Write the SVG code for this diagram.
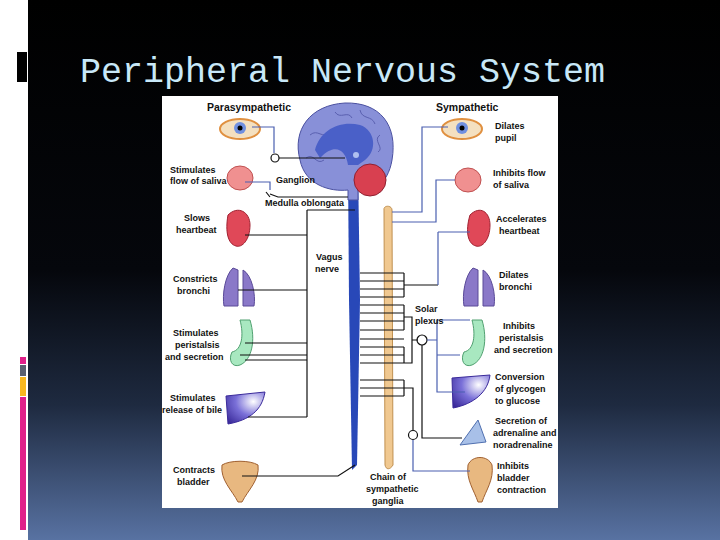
<svg xmlns="http://www.w3.org/2000/svg" width="720" height="540" viewBox="0 0 720 540">
<defs>
<linearGradient id="bg" x1="0" y1="0" x2="0" y2="1">
<stop offset="0" stop-color="#000"/><stop offset="0.5" stop-color="#05070c"/><stop offset="0.75" stop-color="#1e2a40"/><stop offset="1" stop-color="#5872a2"/>
</linearGradient>
<radialGradient id="liver" cx="0.7" cy="0.3" r="0.9"><stop offset="0" stop-color="#fff"/><stop offset="0.5" stop-color="#7a70d8"/><stop offset="1" stop-color="#3a2a9a"/></radialGradient>
</defs>
<style>
.t{font-family:"Liberation Sans",Arial,sans-serif;font-size:9px;font-weight:bold;fill:#111}
.h{font-family:"Liberation Sans",Arial,sans-serif;font-size:10.5px;font-weight:bold;fill:#111}
.k{stroke:#111;stroke-width:1.2;fill:none}
.b{stroke:#4a5fb0;stroke-width:1.2;fill:none}
.g{stroke:#5a60b0;stroke-width:1;fill:none}
.eye{fill:#f4e0c0;stroke:#e09040;stroke-width:2}
.heart{fill:#e04858;stroke:#a02030}
.lung{fill:#8a78c8;stroke:#5a4a98}
.sto{fill:#a8e8c0;stroke:#50a070}
.blad{fill:#e8b880;stroke:#a06030}
.sal{fill:#f09090;stroke:#c05050}
</style>
<rect width="720" height="540" fill="url(#bg)"/>
<rect width="28" height="540" fill="#fff"/>
<rect x="17" y="52" width="10" height="30" fill="#000"/>
<rect x="20" y="357" width="6" height="7" fill="#e0208a"/>
<rect x="20" y="365" width="6" height="11" fill="#5a6070"/>
<rect x="20" y="377" width="6" height="19" fill="#f8b820"/>
<rect x="20" y="397" width="6" height="133" fill="#e0208a"/>
<text x="80" y="82" font-family="Liberation Mono,monospace" font-size="35" fill="#c8e8f8">Peripheral Nervous System</text>
<g id="figure">
<rect x="162" y="96" width="396" height="412" fill="#fff"/>
<text class="h" x="207" y="111">Parasympathetic</text>
<text class="h" x="436" y="111">Sympathetic</text>
</g>
<g id="cord">
<path d="M348,165 L358,165 L360,300 L357,465 L352,470 L349,300Z" fill="#2848b8"/>
<path d="M384,210 C383,205 392,205 392,210 L393,465 C390,470 386,470 385,465Z" fill="#f0c890" stroke="#c09050"/>
</g>
<g id="brain">
<path d="M300,160 C292,130 310,105 345,103 C380,102 398,125 392,160 C388,185 370,195 358,190 L358,200 L348,200 L348,190 C330,192 305,185 300,160Z" fill="#8890d8" stroke="#4a50a0"/>
<path class="g" d="M310,135 C318,128 322,140 330,132 M335,112 C340,120 348,110 352,118 M360,110 C362,120 372,115 375,124 M380,135 C372,140 385,148 378,152 M306,158 C314,152 316,166 324,160"/>
<path d="M315,150 C320,130 340,120 360,125 C375,130 378,150 365,160 L358,165 L348,165 C346,150 335,142 320,158Z" fill="#4a60c8"/>
<circle cx="356" cy="155" r="3" fill="#b0c0f0"/>
<circle cx="370" cy="180" r="16" fill="#d84050" stroke="#902030"/>
</g>
<g id="organs">
<ellipse class="eye" cx="240" cy="129" rx="20" ry="10"/><circle cx="240" cy="128" r="6" fill="#7090e0"/><circle cx="240" cy="128" r="2.5" fill="#000"/>
<ellipse class="eye" cx="462" cy="129" rx="20" ry="10"/><circle cx="462" cy="128" r="6" fill="#7090e0"/><circle cx="462" cy="128" r="2.5" fill="#000"/>
<ellipse class="sal" cx="240" cy="178" rx="13" ry="12"/>
<ellipse class="sal" cx="468" cy="180" rx="13" ry="12"/>
<path class="heart" d="M228,215 C238,205 250,212 250,225 C250,240 242,248 236,246 C228,244 225,232 228,215Z"/>
<path class="heart" d="M470,215 C480,205 490,212 490,225 C490,240 482,248 476,246 C468,244 465,232 470,215Z"/>
<path class="lung" d="M233,268 C225,275 222,295 224,306 L238,306 L238,270Z M243,270 C252,275 256,295 254,306 L243,306Z"/>
<path class="lung" d="M473,268 C465,275 462,295 464,306 L478,306 L478,270Z M483,270 C492,275 496,295 494,306 L483,306Z"/>
<path class="sto" d="M240,320 L250,320 C256,340 252,360 240,365 C232,368 228,360 232,352 C242,350 244,335 240,320Z"/>
<path class="sto" d="M472,320 L482,320 C488,340 484,360 472,365 C464,368 460,360 464,352 C474,350 476,335 472,320Z"/>
<path fill="url(#liver)" stroke="#3a2a9a" d="M226,396 L265,392 C262,410 250,420 228,424 Z"/>
<path fill="url(#liver)" stroke="#3a2a9a" d="M452,378 L490,375 C488,392 474,404 453,408 Z"/>
<path fill="#a8c0e8" stroke="#5070b0" d="M460,445 L478,420 L486,442 Z"/>
<path class="blad" d="M222,465 C230,460 250,460 258,465 C260,480 248,490 242,502 L238,502 C232,490 220,480 222,465Z"/>
<path class="blad" d="M468,465 C472,455 488,455 492,465 C494,480 486,490 482,502 L478,502 C474,490 466,480 468,465Z"/>
</g>
<g id="connectors">
<path class="b" d="M252,127 H274 V153"/><circle class="k" cx="275" cy="158" r="4"/><path class="k" d="M279,158 H345"/>
<path class="b" d="M245,182 H270 V190"/><path class="k" d="M270,194 L278,197 H348 M270,197 L266,192"/>
<path class="k" d="M307,210 H355 M307,210 V417 M307,235 H245 M307,290 H238 M307,343 H245 M307,355 H240 M307,360 H245 M307,417 H248"/>
<path class="k" d="M242,476 H338 L355,465"/>
<path class="k" d="M360,273 H404 M360,281 H404 M360,289 H404 M360,297 H404 M360,305 H404 M360,313 H404 M360,321 H404 M360,330 H404 M360,339 H404 M360,347 H404 M360,355 H404 M360,363 H404 M360,380 H404 M360,388 H404 M360,396 H404 M404,273 V297 M404,305 V330 M404,347 V363 M404,380 V396 M404,317 H412 V363 H404 M404,285 H438 M412,340 H418"/>
<path class="k" d="M404,388 H413 V430"/><circle class="k" cx="413" cy="435" r="4.5"/><path class="b" d="M413,440 V471 H470"/>
<circle class="k" cx="422" cy="340" r="5"/><path class="b" d="M427,340 L437,340 M437,320 V392 H465 M437,320 H470 M437,355 H460"/><path class="k" d="M422,345 V438 H462"/>
<path class="b" d="M448,127 H422 V212 H392 M455,180 H436 V222 H392 M438,232 H470 M438,232 V285"/>
</g>
<g id="labels">
<text class="t" x="170" y="173">Stimulates</text><text class="t" x="170" y="184">flow of saliva</text>
<text class="t" x="276" y="183">Ganglion</text>
<text class="t" x="265" y="206">Medulla oblongata</text>
<text class="t" x="184" y="221">Slows</text><text class="t" x="176" y="233">heartbeat</text>
<text class="t" x="173" y="282">Constricts</text><text class="t" x="177" y="294">bronchi</text>
<text class="t" x="173" y="336">Stimulates</text><text class="t" x="175" y="348">peristalsis</text><text class="t" x="165" y="360">and secretion</text>
<text class="t" x="170" y="401">Stimulates</text><text class="t" x="162" y="413">release of bile</text>
<text class="t" x="173" y="473">Contracts</text><text class="t" x="177" y="485">bladder</text>
<text class="t" x="316" y="260">Vagus</text><text class="t" x="315" y="272">nerve</text>
<text class="t" x="415" y="312">Solar</text><text class="t" x="415" y="324">plexus</text>
<text class="t" x="370" y="480">Chain of</text><text class="t" x="366" y="492">sympathetic</text><text class="t" x="372" y="504">ganglia</text>
<text class="t" x="495" y="129">Dilates</text><text class="t" x="495" y="141">pupil</text>
<text class="t" x="493" y="176">Inhibits flow</text><text class="t" x="493" y="188">of saliva</text>
<text class="t" x="496" y="222">Accelerates</text><text class="t" x="499" y="234">heartbeat</text>
<text class="t" x="499" y="278">Dilates</text><text class="t" x="499" y="290">bronchi</text>
<text class="t" x="503" y="329">Inhibits</text><text class="t" x="499" y="341">peristalsis</text><text class="t" x="494" y="353">and secretion</text>
<text class="t" x="495" y="380">Conversion</text><text class="t" x="495" y="392">of glycogen</text><text class="t" x="495" y="404">to glucose</text>
<text class="t" x="495" y="424">Secretion of</text><text class="t" x="493" y="436">adrenaline and</text><text class="t" x="493" y="448">noradrenaline</text>
<text class="t" x="497" y="469">Inhibits</text><text class="t" x="497" y="481">bladder</text><text class="t" x="497" y="493">contraction</text>
</g>
</svg>
